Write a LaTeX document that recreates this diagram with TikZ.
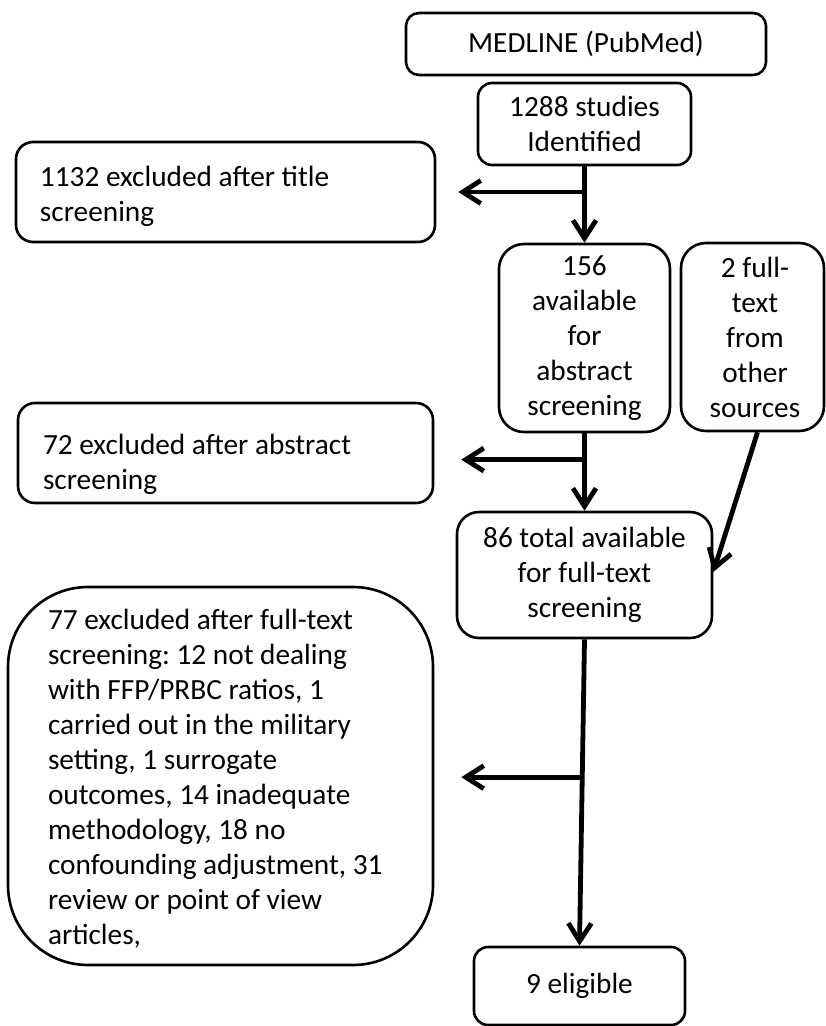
\documentclass[tikz,border=0pt]{standalone}
\usepackage{fontspec}
\setmainfont{Carlito}
\usetikzlibrary{arrows.meta,calc}
\frenchspacing
\newcommand\lefttext[5]{\begin{minipage}[c][#1][t]{#2}\raggedright\leftskip=#3\relax\parindent=0pt\rule{0pt}{#4}#5\end{minipage}}
\begin{document}
\begin{tikzpicture}[x=1pt,y=-1pt,
  font=\fontsize{29.3}{35}\selectfont,
  box/.style={draw, line width=2.6pt, inner sep=0pt, align=center},
  lbox/.style={draw, line width=2.6pt, inner sep=0pt},
  arr/.style={line width=4.8pt, -{Straight Barb[length=18pt,width=23pt]}}]
\useasboundingbox (0,0) rectangle (826,1026);

\node[box, rounded corners=13pt, minimum width=360pt, minimum height=62pt] (med) at (586,44) {MEDLINE (PubMed)};
\node[box, rounded corners=14pt, minimum width=213pt, minimum height=82pt] (ident) at (584.5,124) {1288 studies\\Identified};
\node[lbox, rounded corners=17pt] (t1132) at (225.5,192) {\lefttext{100pt}{419pt}{24pt}{44pt}{1132 excluded after title\\screening}};
\node[box, rounded corners=25pt, minimum width=171pt, minimum height=188pt] (abs156) at (584.5,338) {156\\available\\for\\abstract\\screening};
\node[box, rounded corners=25pt, minimum width=143pt, minimum height=188pt] (other) at (752.5,337) {\hspace*{5pt}2 full-\\\hspace*{5pt}text\\\hspace*{5pt}from\\\hspace*{5pt}other\\\hspace*{5pt}sources};
\node[lbox, rounded corners=17pt] (t72) at (225.5,453) {\lefttext{100pt}{415pt}{25pt}{51pt}{72 excluded after abstract\\screening}};
\node[box, rounded corners=22pt, minimum width=255pt, minimum height=126pt] (full86) at (584.5,575) {86 total available\\for full-text\\screening};
\node[lbox, rounded corners=80pt] (t77) at (220.5,776) {\lefttext{378pt}{425pt}{40pt}{42pt}{77 excluded after full-text\\screening: 12 not dealing\\with FFP/PRBC ratios, 1\\carried out in the military\\setting, 1 surrogate\\outcomes, 14 inadequate\\methodology, 18 no\\confounding adjustment, 31\\review or point of view\\articles,}};
\node[box, rounded corners=14pt, minimum width=211pt, minimum height=78pt] (elig) at (579.5,986) {9 eligible};

\coordinate (j1) at (ident.south |- t1132.east);
\coordinate (e1) at ($(t1132.east)+(22,0)$);
\draw[arr] (ident.south) -- (abs156.north);
\draw[arr] (j1) -- (e1);

\coordinate (j2) at ($(abs156.south)!0.34!(full86.north)$);
\coordinate (e2) at ($(t72.east |- j2)+(27,0)$);
\draw[arr] (abs156.south) -- (full86.north);
\draw[arr] (j2) -- (e2);

\coordinate (s2) at ($(other.south)+(5,0)$);
\coordinate (e4) at ($(full86.east)+(0,-3)$);
\draw[arr] (s2) -- (e4);

\coordinate (j3) at ($(full86.south)!0.45!(elig.north)$);
\coordinate (e3) at ($(t77.east |- j3)+(27,0)$);
\draw[arr] (full86.south) -- (elig.north);
\draw[arr] (j3) -- (e3);
\end{tikzpicture}
\end{document}
